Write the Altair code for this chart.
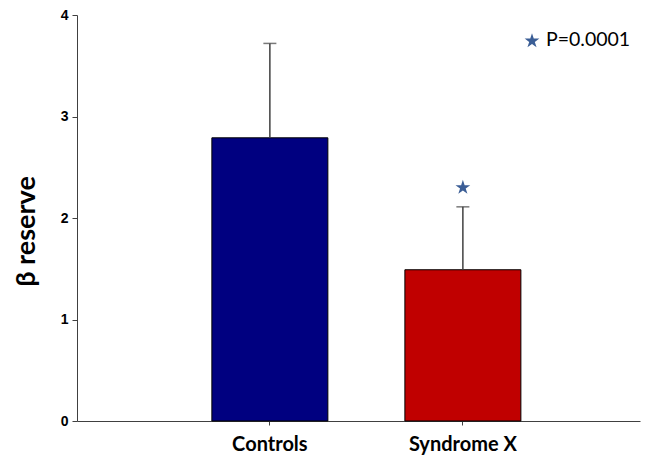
import altair as alt
import pandas as pd

categories = ["Controls", "Syndrome X"]
means = [2.79, 1.49]
upper = [3.72, 2.11]
star_y = [None, 2.30]
bar_colors = ["#000080", "#C00000"]
legend_text = ["P=0.0001"]

STAR = "M0,-1L0.2245,-0.309L0.951,-0.309L0.363,0.118L0.588,0.809L0,0.382L-0.588,0.809L-0.363,0.118L-0.951,-0.309L-0.2245,-0.309Z"

df = pd.DataFrame({"cat": categories, "mean": means, "upper": upper, "star": star_y})

xscale = alt.Scale(domain=categories, paddingInner=0.399, paddingOuter=0.658, align=0.531)
x = alt.X("cat:N", scale=xscale, sort=categories,
          axis=alt.Axis(title=None, labelAngle=0, labelFont="Lato", labelFontSize=20,
                        labelFontWeight="bold", labelColor="black", tickSize=4,
                        labelPadding=9, domainColor="#404040", tickColor="#404040"))
yscale = alt.Scale(domain=[0, 4], nice=False)
y = alt.Y("mean:Q", scale=yscale,
          axis=alt.Axis(title="β reserve", values=[0, 1, 2, 3, 4], format="d", grid=False,
                        labelFont="Liberation Sans", labelFontSize=14, labelFontWeight="bold",
                        labelColor="black", tickSize=5, labelPadding=4,
                        domainColor="#404040", tickColor="#404040",
                        titleFont="Lato", titleFontSize=27, titleFontWeight="bold",
                        titleColor="black", titleAngle=270, titleX=-51, titleY=216,
                        titleAlign="center", titleBaseline="middle"))

base = alt.Chart(df)

bars = base.mark_bar(stroke="black", strokeWidth=1).encode(
    x=x, y=y,
    color=alt.Color("cat:N", scale=alt.Scale(domain=categories, range=bar_colors), legend=None),
)
err = base.mark_rule(color="#404040", strokeWidth=1.5).encode(
    x=alt.X("cat:N", scale=xscale, sort=categories), y=alt.Y("mean:Q", scale=yscale), y2="upper:Q"
)
cap = base.mark_tick(color="#404040", size=13, thickness=1.5).encode(
    x=alt.X("cat:N", scale=xscale, sort=categories), y=alt.Y("upper:Q", scale=yscale)
)
star = base.transform_filter("isValid(datum.star)").mark_point(
    shape=STAR, filled=True, color="#3B5E96", size=240, opacity=1
).encode(x=alt.X("cat:N", scale=xscale, sort=categories), y=alt.Y("star:Q", scale=yscale))

leg_df = pd.DataFrame({"label": legend_text})
leg_star = alt.Chart(leg_df).mark_point(
    shape=STAR, filled=True, color="#3B5E96", size=240, opacity=1
).encode(x=alt.value(455), y=alt.value(26))
leg_text = alt.Chart(leg_df).mark_text(
    align="left", baseline="middle", font="Lato", fontSize=19.5, color="black"
).encode(x=alt.value(469), y=alt.value(25), text="label:N")

chart = alt.layer(bars, err, cap, star, leg_star, leg_text).properties(
    width=563, height=406,
    autosize=alt.AutoSizeParams(type="none"),
    padding={"left": 69, "top": 7, "right": 16, "bottom": 36},
).configure_view(stroke=None)

chart.save("out.html", embed_options={"renderer": "svg", "actions": False})
